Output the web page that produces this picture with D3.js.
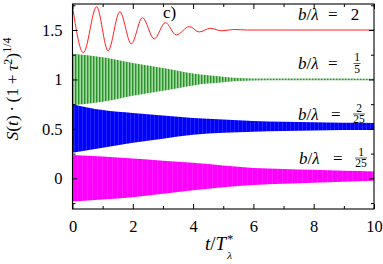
<!DOCTYPE html>
<html><head><meta charset="utf-8">
<script src="https://cdn.jsdelivr.net/npm/d3@7"></script>
<style>body{margin:0;background:#fff}svg{display:block}</style>
</head><body>
<script>
// ---- data ----
const xTicksMajor = [0, 2, 4, 6, 8, 10];
const xTicksMinor = [1, 3, 5, 7, 9];
const yTicksMajor = [0, 0.5, 1, 1.5];
const yTickLabels = ["0", "0.5", "1", "1.5"];
const yTicksMinor = [-0.25, 0.25, 0.75, 1.25, 1.75];

// b/λ = 2 : damped oscillation, extrema
const redT = [0, 0.36, 0.80, 1.18, 1.57, 1.95, 2.32, 2.71, 3.08, 3.44, 3.88, 4.20, 4.57, 4.95, 5.35, 5.8, 10];
const redS = [1.74, 1.27, 1.735, 1.29, 1.685, 1.36, 1.625, 1.41, 1.575, 1.45, 1.535, 1.48, 1.517, 1.492, 1.505, 1.5, 1.5];

// b/λ = 1/5 : envelope of fast oscillation
const greenT = [0, 0.5, 1, 1.5, 2, 2.5, 3, 3.5, 4, 4.5, 5, 5.5, 6, 7, 8, 10];
const greenUpper = [1.26, 1.245, 1.225, 1.197, 1.166, 1.14, 1.115, 1.088, 1.06, 1.042, 1.028, 1.015, 1.01, 1.009, 1.009, 1.008];
const greenLower = [0.74, 0.755, 0.775, 0.803, 0.834, 0.86, 0.885, 0.912, 0.94, 0.958, 0.972, 0.985, 0.99, 0.991, 0.991, 0.992];

// b/λ = 2/25
const blueT = [0, 1, 2, 3, 4, 5, 6, 7, 8, 9, 10];
const blueUpper = [0.75, 0.69, 0.66, 0.635, 0.61, 0.595, 0.58, 0.572, 0.566, 0.562, 0.56];
const blueLower = [0.26, 0.31, 0.36, 0.40, 0.44, 0.46, 0.47, 0.478, 0.484, 0.488, 0.49];

// b/λ = 1/25
const magT = [0, 1, 2, 3, 4, 5, 6, 7, 8, 9, 10];
const magUpper = [0.236, 0.22, 0.2, 0.178, 0.157, 0.13, 0.105, 0.095, 0.086, 0.077, 0.07];
const magLower = [-0.235, -0.215, -0.19, -0.155, -0.12, -0.09, -0.068, -0.055, -0.045, -0.034, -0.024];

const seriesLabels = [
  {whole: "2"},
  {num: "1", den: "5"},
  {num: "2", den: "25"},
  {num: "1", den: "25"}
];

// ---- layout ----
const W = 383, H = 264;
const L = 72.5, R = 374, T = 4, B = 209;
const SERIF = '"Liberation Serif"';

const svg = d3.select("body").append("svg").attr("width", W).attr("height", H);
const x = d3.scaleLinear().domain([0, 10]).range([L, R]);
const y = d3.scaleLinear().domain([-0.31, 1.763]).range([B, T]);

function txt(sel, size) {
  return sel.style("font-family", SERIF).style("font-size", size + "px");
}

const defs = svg.append("defs");
const gp = defs.append("pattern").attr("id", "gpat").attr("patternUnits", "userSpaceOnUse")
  .attr("width", 3).attr("height", 10);
gp.append("rect").attr("width", 3).attr("height", 10).attr("fill", "#a0d8a0");
gp.append("rect").attr("width", 1.4).attr("height", 10).attr("fill", "#2a932a");
const bp = defs.append("pattern").attr("id", "bpat").attr("patternUnits", "userSpaceOnUse")
  .attr("width", 4).attr("height", 10);
bp.append("rect").attr("width", 4).attr("height", 10).attr("fill", "#0000ff");
bp.append("rect").attr("x", 2).attr("width", 0.6).attr("height", 10).attr("fill", "#3a3aff");
const mp = defs.append("pattern").attr("id", "mpat").attr("patternUnits", "userSpaceOnUse")
  .attr("width", 5).attr("height", 10);
mp.append("rect").attr("width", 5).attr("height", 10).attr("fill", "#ff00ff");
mp.append("rect").attr("x", 2).attr("width", 0.5).attr("height", 10).attr("fill", "#ff3cff");

defs.append("clipPath").attr("id", "clip").append("rect")
  .attr("x", L).attr("y", T).attr("width", R - L).attr("height", B - T);

const plot = svg.append("g").attr("clip-path", "url(#clip)");

function band(ts, up, lo) {
  return d3.area().x((d, i) => x(ts[i])).y0((d, i) => y(lo[i])).y1((d, i) => y(up[i]))
    .curve(d3.curveMonotoneX)(ts);
}

plot.append("path")
  .attr("d", d3.line().x((d, i) => x(redT[i])).y((d, i) => y(redS[i])).curve(d3.curveMonotoneX)(redT))
  .attr("fill", "none").attr("stroke", "#ff2020").attr("stroke-width", 1);
plot.append("path").attr("d", band(greenT, greenUpper, greenLower)).attr("fill", "url(#gpat)");
plot.append("path").attr("d", band(blueT, blueUpper, blueLower)).attr("fill", "url(#bpat)");
plot.append("path").attr("d", band(magT, magUpper, magLower)).attr("fill", "url(#mpat)");

// ---- axes ----
function styleAxis(g) {
  g.select(".domain").remove();
  g.selectAll("line").attr("stroke", "#000").attr("stroke-width", 1);
  txt(g.selectAll("text"), 16.5).attr("fill", "#000");
}
svg.append("g").attr("transform", `translate(0,${B})`)
  .call(d3.axisBottom(x).tickValues(xTicksMajor).tickSize(-5).tickPadding(11.5).tickFormat(d3.format("d"))).call(styleAxis);
svg.append("g").attr("transform", `translate(0,${B})`)
  .call(d3.axisBottom(x).tickValues(xTicksMinor).tickSize(-3).tickFormat("")).call(styleAxis);
svg.append("g").attr("transform", `translate(0,${T})`)
  .call(d3.axisTop(x).tickValues(xTicksMajor).tickSize(-5).tickFormat("")).call(styleAxis);
svg.append("g").attr("transform", `translate(0,${T})`)
  .call(d3.axisTop(x).tickValues(xTicksMinor).tickSize(-3).tickFormat("")).call(styleAxis);
svg.append("g").attr("transform", `translate(${L},0)`)
  .call(d3.axisLeft(y).tickValues(yTicksMajor).tickSize(-5).tickPadding(10).tickFormat((d, i) => yTickLabels[i])).call(styleAxis);
svg.append("g").attr("transform", `translate(${L},0)`)
  .call(d3.axisLeft(y).tickValues(yTicksMinor).tickSize(-3).tickFormat("")).call(styleAxis);
svg.append("g").attr("transform", `translate(${R},0)`)
  .call(d3.axisRight(y).tickValues(yTicksMajor).tickSize(-5).tickFormat("")).call(styleAxis);
svg.append("g").attr("transform", `translate(${R},0)`)
  .call(d3.axisRight(y).tickValues(yTicksMinor).tickSize(-3).tickFormat("")).call(styleAxis);

svg.append("rect").attr("x", L).attr("y", T).attr("width", R - L).attr("height", B - T)
  .attr("fill", "none").attr("stroke", "#000").attr("stroke-width", 1.1);

// ---- text ----
txt(svg.append("text").attr("x", 163).attr("y", 18), 17).text("c)");

const labelPos = [
  {x: 298, base: 20, eq: 328, fx: 355},
  {x: 298, base: 69, eq: 328, fx: 357},
  {x: 298, base: 119.5, eq: 331, fx: 359},
  {x: 299, base: 163.5, eq: 333, fx: 361}
];
seriesLabels.forEach((s, i) => {
  const p = labelPos[i];
  const g = svg.append("g");
  const t = txt(g.append("text").attr("x", p.x).attr("y", p.base), 17);
  t.append("tspan").style("font-style", "italic").text("b");
  t.append("tspan").text("/");
  t.append("tspan").style("font-style", "italic").text("λ");
  txt(g.append("text").attr("x", p.eq).attr("y", p.base), 17).text("=");
  if (s.whole) {
    txt(g.append("text").attr("x", p.fx).attr("y", p.base).attr("text-anchor", "middle"), 17).text(s.whole);
  } else {
    const bar = p.base - 5.5;
    const w = s.den.length > 1 ? 12 : 7;
    txt(g.append("text").attr("x", p.fx).attr("y", bar - 2.2).attr("text-anchor", "middle"), 11.5).text(s.num);
    g.append("line").attr("x1", p.fx - w / 2).attr("x2", p.fx + w / 2).attr("y1", bar).attr("y2", bar)
      .attr("stroke", "#000").attr("stroke-width", 0.6);
    txt(g.append("text").attr("x", p.fx).attr("y", bar + 9.3).attr("text-anchor", "middle"), 11.5).text(s.den);
  }
});

// y label
const yl = txt(svg.append("text").attr("transform", "translate(18,89) rotate(-90)")
  .attr("text-anchor", "middle"), 17.5);
yl.append("tspan").style("font-style", "italic").text("S");
yl.append("tspan").text("(");
yl.append("tspan").style("font-style", "italic").text("t");
yl.append("tspan").text(")\u2009·\u2009(1\u2009+\u2009");
yl.append("tspan").style("font-style", "italic").text("τ");
yl.append("tspan").style("font-size", "12px").attr("dy", -6.5).text("2");
yl.append("tspan").attr("dy", 6.5).text(")");
yl.append("tspan").style("font-size", "12px").attr("dy", -7.5).text("1/4");

// x label
const xl = txt(svg.append("text").attr("x", 205).attr("y", 250), 19);
xl.append("tspan").style("font-style", "italic").text("t");
xl.append("tspan").text("/");
xl.append("tspan").style("font-style", "italic").text("T");
const xEnd = 205 + xl.node().getComputedTextLength();
txt(svg.append("text").attr("x", xEnd + 1).attr("y", 243), 12).text("*");
txt(svg.append("text").attr("x", xEnd + 1).attr("y", 259).style("font-style", "italic"), 11).text("λ");
</script>
</body></html>
